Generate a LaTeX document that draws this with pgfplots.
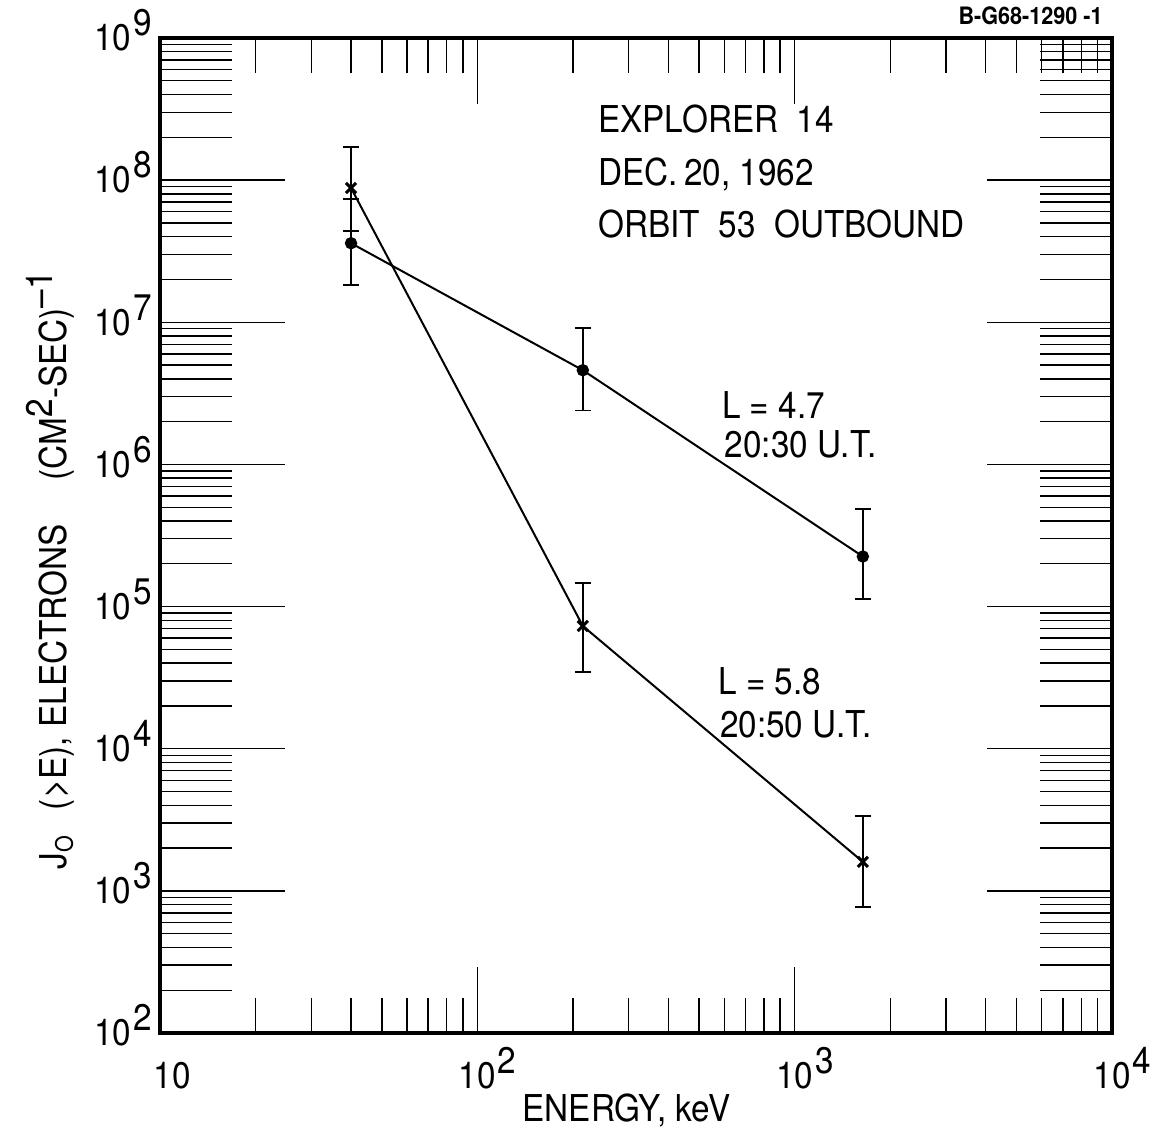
\documentclass[border=0pt]{standalone}
\usepackage{pgfplots}
\pgfplotsset{compat=1.18}
\usepackage{fontspec}
\setmainfont{TeX Gyre Heros}[FakeStretch=0.9]

% lettering sizes
\newcommand\lab{\fontsize{18.5pt}{22pt}\selectfont}
\newcommand\figtag{\fontsize{12pt}{14pt}\selectfont\bfseries}
% powers of ten: x labels centred on the "10", y labels right aligned
\newcommand\ex[1]{10\rlap{\kern1pt\smash{\raisebox{7.5pt}{#1}}}}
\newcommand\ey[1]{10\kern1pt\smash{\raisebox{7.5pt}{#1}}}

\begin{document}
\begin{tikzpicture}
% vertical scale: long decade ticks on both sides
\begin{axis}[
  xmode=log, ymode=log,
  xmin=10, xmax=10000, ymin=100, ymax=1000000000,
  scale only axis, width=476pt, height=497.5pt,
  at={(0pt,0pt)}, anchor=south west,
  axis line style={line width=1.8pt},
  tick style={line width=0.7pt, black},
  tick align=inside,
  name=ax, clip=false,
  xtick=\empty,
  ytick={1e2,1e3,1e4,1e5,1e6,1e7,1e8,1e9},
  yticklabels={\ey{2},\ey{3},\ey{4},\ey{5},\ey{6},\ey{7},\ey{8},\ey{9}},
  major tick length=62.5pt, minor tick length=36pt,
  yticklabel style={font=\lab, inner sep=0pt, xshift=-4pt},
]
  % L = 4.7, 20:30 U.T.
  \addplot[black, line width=1pt, mark=*, mark size=2.6pt,
    error bars/y dir=both, error bars/y explicit,
    error bars/error bar style={line width=0.8pt, black},
    error bars/error mark options={rotate=90, mark size=4pt, line width=0.8pt, black}]
    coordinates {
      (40,3.6e7)    += (0,3.77e7) -= (0,1.77e7)
      (215,4.6e6)   += (0,4.5e6)  -= (0,2.2e6)
      (1640,2.25e5) += (0,2.6e5)  -= (0,1.12e5)
    };
  % L = 5.8, 20:50 U.T.
  \addplot[black, line width=1pt, mark=x, mark size=3.6pt,
    mark options={line width=1.5pt},
    error bars/y dir=both, error bars/y explicit,
    error bars/error bar style={line width=0.8pt, black},
    error bars/error mark options={rotate=90, mark size=4pt, line width=0.8pt, black}]
    coordinates {
      (40,8.8e7)   += (0,8.3e7)  -= (0,4.41e7)
      (215,7.3e4)  += (0,7.4e4)  -= (0,3.83e4)
      (1640,1.6e3) += (0,1.76e3) -= (0,8.3e2)
    };

  \node[font=\lab, anchor=base west, inner sep=0pt] at (rel axis cs:0.460,0.9055) {EXPLORER\enspace 14};
  \node[font=\lab, anchor=base west, inner sep=0pt] at (rel axis cs:0.460,0.852) {DEC.\,20, 1962};
  \node[font=\lab, anchor=base west, inner sep=0pt] at (rel axis cs:0.460,0.799) {ORBIT\enspace 53\enspace OUTBOUND};

  \node[font=\lab, anchor=base west, inner sep=0pt] at (rel axis cs:0.590,0.618) {L = 4.7};
  \node[font=\lab, anchor=base west, inner sep=0pt] at (rel axis cs:0.593,0.578) {20:30 U.T.};
  \node[font=\lab, anchor=base west, inner sep=0pt] at (rel axis cs:0.586,0.340) {L = 5.8};
  \node[font=\lab, anchor=base west, inner sep=0pt] at (rel axis cs:0.588,0.297) {20:50 U.T.};

  \node[font=\figtag, anchor=base east, inner sep=0pt] at (rel axis cs:0.9905,1.014) {B-G68-1290 -1};

  \node[font=\lab, rotate=90, anchor=base, inner sep=0pt] at (rel axis cs:-0.0977,0.465)
    {J\raisebox{-3pt}{\fontsize{12pt}{12pt}\selectfont O}\hspace{0.7em}(>E), ELECTRONS\hspace{1.2em}(CM\raisebox{7pt}{2}-SEC)\raisebox{7pt}{\textendash 1}};
  \node[font=\lab, anchor=base, inner sep=0pt] at (rel axis cs:0.49,-0.0885) {ENERGY, keV};
\end{axis}
% horizontal scale: energy decades top and bottom
\begin{axis}[
  xmode=log, ymode=log,
  xmin=10, xmax=10000, ymin=100, ymax=1000000000,
  scale only axis, width=476pt, height=497.5pt,
  at={(0pt,0pt)}, anchor=south west,
  axis line style={line width=1.8pt},
  tick style={line width=0.7pt, black},
  tick align=inside,
  ytick=\empty,
  xtick={10,100,1000,10000},
  xticklabels={\hspace*{12pt}10,\ex{2},\ex{3},\ex{4}},
  major tick length=33pt, minor tick length=17.5pt,
  xticklabel style={font=\lab, inner sep=0pt, anchor=north, yshift=-14.5pt},
]
\end{axis}
\pgfresetboundingbox
\path[use as bounding box] ([shift={(-80pt,-50.5pt)}]ax.south west) rectangle ([shift={(498pt,516.5pt)}]ax.south west);
\end{tikzpicture}
\end{document}
